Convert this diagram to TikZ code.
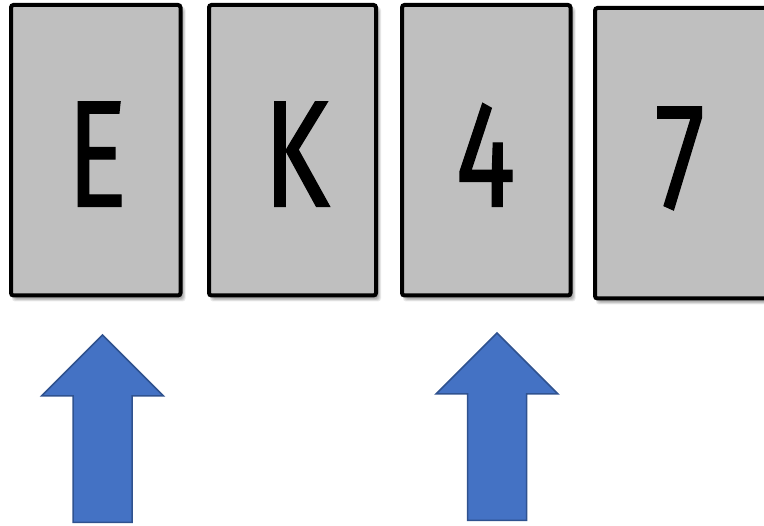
\documentclass[tikz,border=0pt]{standalone}
\usepackage{fontspec}
\setmainfont[FakeStretch=0.74, FakeBold=0.8]{Fira Sans}
\definecolor{cardgray}{HTML}{BFBFBF}
\definecolor{arrowblue}{HTML}{4472C4}
\definecolor{arrowedge}{HTML}{2F528F}
\begin{document}
\begin{tikzpicture}[x=1pt,y=-1pt,
  card/.style={draw=black, line width=4pt, fill=cardgray, rounded corners=2.5pt, inner sep=0pt},
  glyph/.style={font=\fontsize{152}{152}\selectfont, anchor=base, inner sep=0pt, text=black},
  upblock/.style={fill=arrowblue, draw=arrowedge, line width=1.5pt, line join=miter}]
\useasboundingbox (0,0) rectangle (764,526);

% soft shadow under a card: centre, width, height
\newcommand\cardshadow[3]{%
  \foreach \g in {0,1.5,3,4.5,6}{%
    \fill[black, opacity=0.08, rounded corners=3pt]
      ([shift={(3,4)}]#1) ++(-#2/2-\g/2+1,-#3/2-\g/2+1) rectangle ++(#2+\g-2,#3+\g-2);
  }}

% block arrow pointing up: tip x, tip y
\newcommand\upblockarrow[2]{%
  \draw[upblock] (#1,#2) -- ++(61,61) -- ++(-31.5,0) -- ++(0,126.5)
    -- ++(-59,0) -- ++(0,-126.5) -- ++(-31.5,0) -- cycle;}

% cards
\cardshadow{95.75,150.25}{169.5}{290.5}
\cardshadow{292.5,150.25}{167}{290.5}
\cardshadow{486.25,150.25}{168.5}{290.5}
\cardshadow{681.5,153.25}{173}{290.5}
\node[card, minimum width=169.5pt, minimum height=290.5pt] (c1) at (95.75,150.25) {};
\node[card, minimum width=167pt,   minimum height=290.5pt] (c2) at (292.5,150.25) {};
\node[card, minimum width=168.5pt, minimum height=290.5pt] (c3) at (486.25,150.25) {};
\node[card, minimum width=173pt,   minimum height=290.5pt] (c4) at (681.5,153.25) {};

% card faces
\node[glyph] (tE) at (97,206.5) {E};
\node[glyph] (tK) at (296.5,206.5) {K};
\node[glyph] (t4) at (485.5,206.5) {4};
\node[glyph] (t7) at (680,208.5) {7};

% pointers under the first and third cards
\upblockarrow{102.5}{335}
\upblockarrow{497}{333}
\end{tikzpicture}
\end{document}
